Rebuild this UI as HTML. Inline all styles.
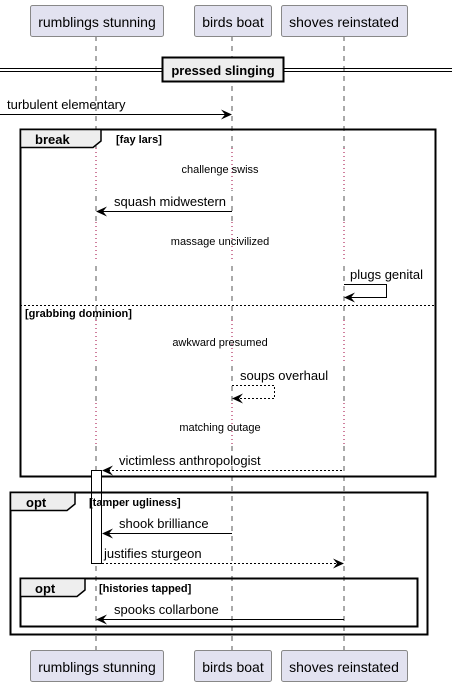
<!DOCTYPE html>
<html><head><meta charset="utf-8"><style>
html,body{margin:0;padding:0;background:#fff;}
svg{display:block;}
text{font-family:"Liberation Sans",sans-serif;fill:#000;}
.b{font-weight:bold;}
</style></head><body>
<svg width="452" height="686" viewBox="0 0 452 686" xmlns="http://www.w3.org/2000/svg">
<defs>
<g id="ah"><polygon points="0,0 -11,-5 -7,0 -11,5" fill="#000"/></g>
</defs>
<g stroke="#555" stroke-width="1" stroke-dasharray="5,5">
<line x1="96" y1="36" x2="96" y2="650"/>
<line x1="232" y1="36" x2="232" y2="650"/>
<line x1="344" y1="36" x2="344" y2="650"/>
</g>
<g stroke="#fff" stroke-width="3">
<line x1="96" y1="148" x2="96" y2="190"/><line x1="232" y1="148" x2="232" y2="190"/><line x1="344" y1="148" x2="344" y2="190"/>
<line x1="96" y1="222" x2="96" y2="262"/><line x1="232" y1="222" x2="232" y2="262"/><line x1="344" y1="222" x2="344" y2="262"/>
<line x1="96" y1="320" x2="96" y2="363"/><line x1="232" y1="320" x2="232" y2="363"/><line x1="344" y1="320" x2="344" y2="363"/>
<line x1="96" y1="403" x2="96" y2="446"/><line x1="232" y1="403" x2="232" y2="446"/><line x1="344" y1="403" x2="344" y2="446"/>
</g>
<g stroke="#a0003c" stroke-width="1" stroke-dasharray="1,3">
<line x1="96" y1="148" x2="96" y2="190"/><line x1="232" y1="148" x2="232" y2="190"/><line x1="344" y1="148" x2="344" y2="190"/>
<line x1="96" y1="222" x2="96" y2="262"/><line x1="232" y1="222" x2="232" y2="262"/><line x1="344" y1="222" x2="344" y2="262"/>
<line x1="96" y1="320" x2="96" y2="363"/><line x1="232" y1="320" x2="232" y2="363"/><line x1="344" y1="320" x2="344" y2="363"/>
<line x1="96" y1="403" x2="96" y2="446"/><line x1="232" y1="403" x2="232" y2="446"/><line x1="344" y1="403" x2="344" y2="446"/>
</g>
<g fill="#e2e2f0" stroke="#888" stroke-width="1">
<rect x="30.5" y="5.5" width="133" height="31" rx="2"/>
<rect x="194.5" y="5.5" width="77" height="31" rx="2"/>
<rect x="281.5" y="5.5" width="126" height="31" rx="2"/>
<rect x="30.5" y="650.5" width="133" height="31" rx="2"/>
<rect x="194.5" y="650.5" width="77" height="31" rx="2"/>
<rect x="281.5" y="650.5" width="126" height="31" rx="2"/>
</g>
<g font-size="14" text-anchor="middle">
<text x="97" y="27">rumblings stunning</text>
<text x="233" y="27">birds boat</text>
<text x="344" y="27">shoves reinstated</text>
<text x="97" y="672">rumblings stunning</text>
<text x="233" y="672">birds boat</text>
<text x="344" y="672">shoves reinstated</text>
</g>
<g stroke="#000" stroke-width="1">
<line x1="0" y1="68.5" x2="452" y2="68.5"/><line x1="0" y1="71.5" x2="452" y2="71.5"/>
</g>
<rect x="162.5" y="57.5" width="121" height="24" fill="#eee" stroke="#000" stroke-width="2"/>
<text x="223" y="75" font-size="13" class="b" text-anchor="middle">pressed slinging</text>
<line x1="0" y1="114.5" x2="230" y2="114.5" stroke="#000"/>
<use href="#ah" x="232" y="114.5"/>
<text x="7" y="109" font-size="13">turbulent elementary</text>
<rect x="20.5" y="129.5" width="415" height="347" fill="none" stroke="#000" stroke-width="2"/>
<path d="M20.5,129.5 H101 V141 L93,147.5 H20.5 Z" fill="#eee" stroke="#000" stroke-width="1.5"/>
<text x="35" y="144" font-size="13" class="b">break</text>
<text x="116" y="143" font-size="11" class="b">[fay lars]</text>
<text x="220" y="173" font-size="11" text-anchor="middle">challenge swiss</text>
<line x1="98" y1="211.5" x2="232" y2="211.5" stroke="#000"/>
<use href="#ah" x="96" y="211.5" transform="rotate(180 96 211.5)"/>
<text x="114" y="206" font-size="13">squash midwestern</text>
<text x="220" y="245" font-size="11" text-anchor="middle">massage uncivilized</text>
<polyline points="344,284.5 386.5,284.5 386.5,297.5 346,297.5" fill="none" stroke="#000"/>
<use href="#ah" x="344" y="297.5" transform="rotate(180 344 297.5)"/>
<text x="350" y="279" font-size="13">plugs genital</text>
<line x1="20" y1="305.5" x2="436" y2="305.5" stroke="#000" stroke-dasharray="2,2"/>
<text x="25" y="317" font-size="11" class="b">[grabbing dominion]</text>
<text x="220" y="346" font-size="11" text-anchor="middle">awkward presumed</text>
<polyline points="232,385.5 274.5,385.5 274.5,398.5 234,398.5" fill="none" stroke="#000" stroke-dasharray="2,2"/>
<use href="#ah" x="232" y="398.5" transform="rotate(180 232 398.5)"/>
<text x="240" y="380" font-size="13">soups overhaul</text>
<text x="220" y="431" font-size="11" text-anchor="middle">matching outage</text>
<!-- activation -->
<rect x="91.5" y="470.5" width="10" height="93" fill="#fff" stroke="#000"/>
<line x1="104" y1="470.5" x2="344" y2="470.5" stroke="#000" stroke-dasharray="2,2"/>
<use href="#ah" x="102" y="470.5" transform="rotate(180 102 470.5)"/>
<text x="119" y="465" font-size="13">victimless anthropologist</text>
<rect x="10.5" y="492.5" width="417" height="142" fill="none" stroke="#000" stroke-width="2"/>
<path d="M10.5,492.5 H75 V504 L67,510.5 H10.5 Z" fill="#eee" stroke="#000" stroke-width="1.5"/>
<text x="26" y="507" font-size="13" class="b">opt</text>
<text x="89" y="506" font-size="11" class="b">[tamper ugliness]</text>
<line x1="104" y1="533.5" x2="232" y2="533.5" stroke="#000"/>
<use href="#ah" x="102" y="533.5" transform="rotate(180 102 533.5)"/>
<text x="119" y="528" font-size="13">shook brilliance</text>
<line x1="102" y1="563.5" x2="342" y2="563.5" stroke="#000" stroke-dasharray="2,2"/>
<use href="#ah" x="344" y="563.5"/>
<text x="104" y="558" font-size="13">justifies sturgeon</text>
<rect x="20.5" y="578.5" width="397" height="48" fill="none" stroke="#000" stroke-width="2"/>
<path d="M20.5,578.5 H85 V590 L77,596.5 H20.5 Z" fill="#eee" stroke="#000" stroke-width="1.5"/>
<text x="35" y="593" font-size="13" class="b">opt</text>
<text x="99" y="592" font-size="11" class="b">[histories tapped]</text>
<line x1="98" y1="619.5" x2="344" y2="619.5" stroke="#000"/>
<use href="#ah" x="96" y="619.5" transform="rotate(180 96 619.5)"/>
<text x="114" y="614" font-size="13">spooks collarbone</text>
</svg>
</body></html>
